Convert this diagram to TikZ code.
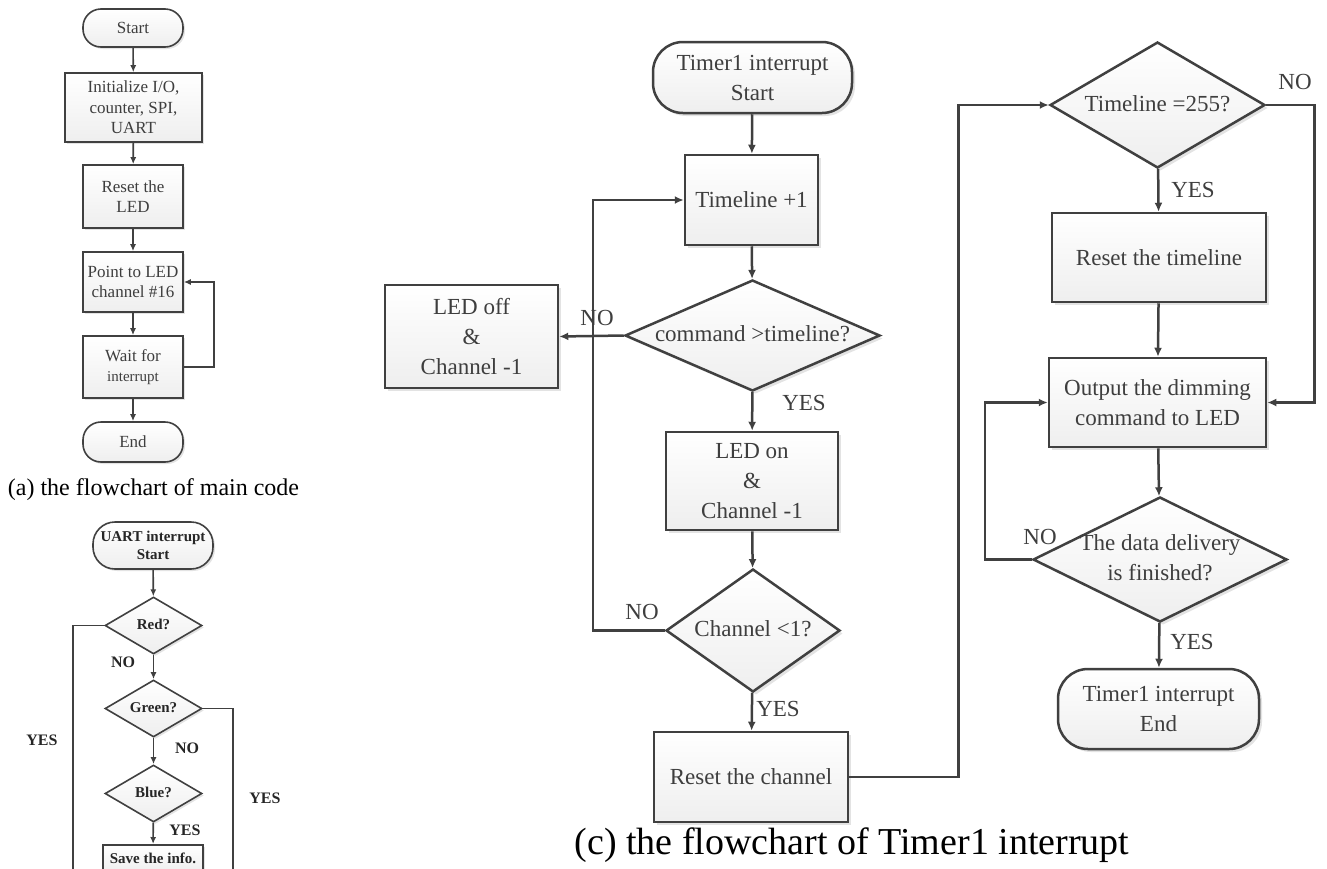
\documentclass[tikz,border=0pt]{standalone}
\usepackage{fontspec}
\setmainfont{Liberation Serif}
\usetikzlibrary{arrows.meta,shapes.geometric,shadows}
\definecolor{fcline}{RGB}{64,64,64}
\definecolor{fctext}{RGB}{62,62,62}
\newcommand{\dtxt}[1]{\makebox[0pt]{\begin{tabular}{@{}c@{}}#1\end{tabular}}}

\begin{document}
\begin{tikzpicture}[x=1pt, y=-1pt,
  every node/.style={align=center, inner sep=2pt, text=fctext},
  % panel (c): Timer1 interrupt
  boxc/.style={rectangle, draw=fcline, line width=2.5pt, top color=white, bottom color=gray!13,
               drop shadow={shadow xshift=3pt, shadow yshift=-3pt, fill=gray!22, opacity=1},
               font=\fontsize{23}{30}\selectfont},
  termc/.style={boxc, rounded corners=30pt},
  decc/.style={boxc, diamond, inner sep=0pt},
  lblc/.style={font=\fontsize{23}{26}\selectfont, inner sep=0pt},
  arrc/.style={-{Latex[length=9pt,width=8pt]}, draw=fcline, line width=2.5pt},
  % panel (a): main code
  boxa/.style={rectangle, draw=fcline, line width=1.6pt, top color=white, bottom color=gray!13,
               drop shadow={shadow xshift=2pt, shadow yshift=-2pt, fill=gray!22, opacity=1},
               font=\fontsize{17}{20.5}\selectfont},
  terma/.style={boxa, rounded corners=18pt},
  arra/.style={-{Latex[length=7pt,width=6pt]}, draw=fcline, line width=1.6pt},
  % panel (b): UART interrupt
  boxb/.style={boxa, font=\bfseries\fontsize{15}{18}\selectfont, text=black!85},
  termb/.style={boxb, rounded corners=22pt},
  decb/.style={boxb, diamond, inner sep=0pt},
  lblb/.style={font=\bfseries\fontsize{16}{19}\selectfont, text=black!85, inner sep=0pt},
  capt/.style={text=black, inner sep=0pt},
]
\useasboundingbox (0,0) rectangle (1327,868);
\clip (0,0) rectangle (1327,868);

% (a) the flowchart of main code
\node[terma, minimum width=100pt, minimum height=38pt] (startA) at (133,28) {Start};
\node[boxa, minimum width=137pt, minimum height=69pt] (initA) at (133.5,107.5) {Initialize I/O,\\counter, SPI,\\UART};
\node[boxa, minimum width=100pt, minimum height=63pt] (resetA) at (133,196.5) {Reset the\\LED};
\node[boxa, minimum width=100pt, minimum height=60pt] (pointA) at (133,282) {Point to LED\\channel \#16};
\node[boxa, minimum width=100pt, minimum height=62pt] (waitA) at (133,367) {Wait for\\{\fontsize{15}{18}\selectfont interrupt}};
\node[terma, minimum width=100pt, minimum height=40pt] (endA) at (133,442) {End};

\draw[arra] (startA) -- (initA);
\draw[arra] (initA) -- (resetA);
\draw[arra] (resetA) -- (pointA);
\draw[arra] (pointA) -- (waitA);
\draw[arra] (waitA) -- (endA);
\draw[arra] (waitA.east) -- ++(30,0) |- (pointA.east);

\node[capt, font=\fontsize{24}{28}\selectfont] (captA) at (153.5,490) {(a) the flowchart of main code};

% (b) UART interrupt
\node[termb, minimum width=120pt, minimum height=47pt] (startB) at (153,545.5) {UART interrupt\\Start};
\node[decb, minimum width=97pt, minimum height=57pt] (redB) at (153.5,625.5) {\dtxt{Red?}};
\node[decb, minimum width=97pt, minimum height=57pt] (greenB) at (153.5,708.5) {\dtxt{Green?}};
\node[decb, minimum width=97pt, minimum height=57pt] (blueB) at (153.5,793.5) {\dtxt{Blue?}};
\node[boxb, minimum width=100pt, minimum height=28pt, anchor=north] (saveB) at (153,844) {Save the info.};
\coordinate (redEnd) at (73,880);
\coordinate (greenEnd) at (233,880);

\draw[arra] (startB) -- (redB);
\draw[arra] (redB) -- (greenB);
\draw[arra] (greenB) -- (blueB);
\draw[arra] (blueB) -- (saveB);
\draw[fcline, line width=1.6pt] (redB.west) -| (redEnd);
\draw[fcline, line width=1.6pt] (greenB.east) -| (greenEnd);

\node[lblb] (noRed) at (123,662) {NO};
\node[lblb] (noGreen) at (187,748) {NO};
\node[lblb] (yesBlue) at (185,830) {YES};
\node[lblb] (yesRed) at (42,740) {YES};
\node[lblb] (yesGreen) at (265,798) {YES};

% (c) Timer1 interrupt
\node[termc, minimum width=199pt, minimum height=71pt] (startC) at (752.5,77.5) {Timer1 interrupt\\Start};
\node[boxc, minimum width=133pt, minimum height=90pt] (incC) at (751.5,200) {Timeline +1};
\node[decc, minimum width=255pt, minimum height=111pt] (cmpC) at (752.5,335.5) {\dtxt{command >timeline?}};
\node[boxc, minimum width=173pt, minimum height=103pt] (offC) at (471.5,336.5) {LED off\\\&\\Channel -1};
\node[boxc, minimum width=172pt, minimum height=98pt] (onC) at (752,481) {LED on\\\&\\Channel -1};
\node[decc, minimum width=174pt, minimum height=123pt] (chC) at (753,630.5) {\dtxt{Channel <1?}};
\node[boxc, minimum width=194pt, minimum height=90pt] (rstC) at (751,777) {Reset the channel};
\node[decc, minimum width=215pt, minimum height=126pt] (tlC) at (1157.5,105) {\dtxt{Timeline =255?}};
\node[boxc, minimum width=214pt, minimum height=89pt] (rtC) at (1159,257.5) {Reset the timeline};
\node[boxc, minimum width=217pt, minimum height=89pt] (outC) at (1157.5,402.5) {Output the dimming\\command to LED};
\node[decc, minimum width=254pt, minimum height=125pt] (dataC) at (1160,559.5) {\dtxt{The data delivery\\is finished?}};
\node[termc, minimum width=201pt, minimum height=80pt] (endC) at (1158.5,709) {Timer1 interrupt\\End};

\draw[arrc] (startC) -- (incC);
\draw[arrc] (incC) -- (cmpC);
\draw[arrc] (cmpC.west) -- (offC.east);
\draw[arrc] (cmpC) -- (onC);
\draw[arrc] (onC) -- (chC);
\draw[arrc] (chC.west) -- ++(-72,0) |- (incC.west);
\draw[arrc] (chC) -- (rstC);
\draw[arrc] (rstC.east) -- ++(109,0) |- (tlC.west);
\draw[arrc] (tlC) -- (rtC);
\draw[arrc] (tlC.east) -- ++(48,0) |- (outC.east);
\draw[arrc] (rtC) -- (outC);
\draw[arrc] (outC) -- (dataC);
\draw[arrc] (dataC.west) -- ++(-47,0) |- (outC.west);
\draw[arrc] (dataC) -- (endC);

\node[lblc] (noCmp) at (597,318) {NO};
\node[lblc] (yesCmp) at (804,403) {YES};
\node[lblc] (noCh) at (642,612) {NO};
\node[lblc] (yesCh) at (778,709) {YES};
\node[lblc] (noTl) at (1295,82) {NO};
\node[lblc] (yesTl) at (1193,190) {YES};
\node[lblc] (noData) at (1040,537) {NO};
\node[lblc] (yesData) at (1192,642) {YES};

\node[capt, font=\fontsize{38}{42}\selectfont] (captC) at (852,845) {(c) the flowchart of Timer1 interrupt};

\end{tikzpicture}
\end{document}
